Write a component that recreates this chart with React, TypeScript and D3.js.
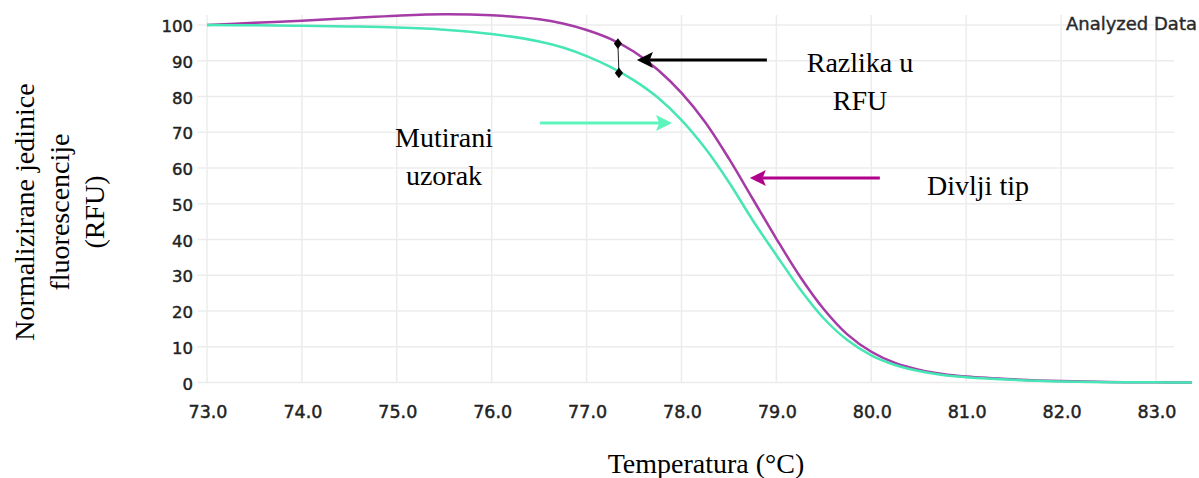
import * as d3 from 'd3';
import React, { useEffect, useRef } from 'react';

// melt curve samples
const temperatures = [73, 73.5, 74, 74.5, 75, 75.5, 76, 76.5, 76.75, 77, 77.25, 77.5, 77.75, 78, 78.25, 78.5, 78.75, 79, 79.25, 79.5, 79.75, 80, 80.25, 80.5, 80.75, 81, 81.5, 82, 82.5, 83, 83.38];
const wildType = [100, 100.6, 101.2, 101.9, 102.6, 103.0, 102.7, 101.6, 100.4, 98.6, 96.1, 92.5, 87.5, 81.0, 72.8, 62.6, 51.4, 40.2, 29.6, 20.5, 13.4, 8.6, 5.5, 3.6, 2.4, 1.7, 0.9, 0.4, 0.15, 0.05, 0];
const mutant = [100, 99.9, 99.8, 99.6, 99.3, 98.7, 97.5, 95.4, 93.7, 91.3, 88.3, 84.5, 79.7, 73.4, 65.5, 56.0, 45.4, 35.6, 26.1, 17.9, 11.8, 7.6, 4.9, 3.2, 2.1, 1.5, 0.75, 0.3, 0.1, 0.05, 0];

const xTicks = [73, 74, 75, 76, 77, 78, 79, 80, 81, 82, 83];
const yTicks = [0, 10, 20, 30, 40, 50, 60, 70, 80, 90, 100];

// difference marker (temperature, RFU of both curves)
const markerTemp = 77.33;
const markerValues = [94.8, 86.6];

const WILD_COLOR = '#a43ba7';
const MUT_COLOR = '#47e6b5';

const App = () => {
  const ref = useRef(null);

  useEffect(() => {
    document.body.style.margin = '0';
    const width = 1199, height = 478;

    const svg = d3.select(ref.current)
      .append('svg')
      .attr('width', width)
      .attr('height', height)
      .style('display', 'block')
      .style('background', '#fff');

    const x = d3.scaleLinear().domain([73, 83]).range([207, 1156]);
    const y = d3.scaleLinear().domain([0, 100]).range([382.5, 25]);

    // grid
    const grid = svg.append('g').attr('stroke', '#ececec').attr('stroke-width', 1.5);
    grid.selectAll('line.v')
      .data(xTicks)
      .join('line')
      .attr('x1', d => x(d)).attr('x2', d => x(d))
      .attr('y1', 15).attr('y2', y(0));
    grid.selectAll('line.h')
      .data(yTicks)
      .join('line')
      .attr('x1', x(72.9)).attr('x2', x(83.19))
      .attr('y1', d => y(d)).attr('y2', d => y(d));

    // tick labels
    const tickFont = "'DejaVu Sans', sans-serif";
    svg.append('g')
      .selectAll('text')
      .data(yTicks)
      .join('text')
      .attr('x', 193)
      .attr('y', d => y(d) + 7)
      .attr('text-anchor', 'end')
      .attr('font-family', tickFont)
      .attr('font-size', 16.5)
      .attr('fill', '#222')
      .attr('stroke', '#222')
      .attr('stroke-width', 0.45)
      .text(d => d);

    svg.append('g')
      .selectAll('text')
      .data(xTicks)
      .join('text')
      .attr('x', d => x(d) + 1)
      .attr('y', 418)
      .attr('text-anchor', 'middle')
      .attr('font-family', tickFont)
      .attr('font-size', 17.5)
      .attr('fill', '#222')
      .attr('stroke', '#222')
      .attr('stroke-width', 0.45)
      .text(d => d.toFixed(1));

    svg.append('text')
      .attr('x', 1197)
      .attr('y', 30)
      .attr('text-anchor', 'end')
      .attr('font-family', tickFont)
      .attr('font-size', 18)
      .attr('fill', '#2a2a2a')
      .attr('stroke', '#2a2a2a')
      .attr('stroke-width', 0.4)
      .text('Analyzed Data');

    // curves
    const line = d3.line()
      .x((d, i) => x(temperatures[i]))
      .y(d => y(d))
      .curve(d3.curveCatmullRom.alpha(0.5));

    svg.append('path')
      .attr('d', line(wildType))
      .attr('fill', 'none')
      .attr('stroke', WILD_COLOR)
      .attr('stroke-width', 2.5);

    svg.append('path')
      .attr('d', line(mutant))
      .attr('fill', 'none')
      .attr('stroke', MUT_COLOR)
      .attr('stroke-width', 2.5);

    // difference marker
    svg.append('line')
      .attr('x1', x(markerTemp)).attr('x2', x(markerTemp) + 1)
      .attr('y1', y(markerValues[0])).attr('y2', y(markerValues[1]))
      .attr('stroke', '#222')
      .attr('stroke-width', 1);
    svg.selectAll('path.diamond')
      .data(markerValues)
      .join('path')
      .attr('d', d3.symbol(d3.symbolDiamond, 40))
      .attr('transform', (d, i) => `translate(${x(markerTemp) + i},${y(d)}) scale(1.2,0.9)`)
      .attr('fill', '#000');

    // arrows
    const arrow = (fromT, toT, val, color, width) => {
      const y0 = y(val);
      const x0 = x(fromT), x1 = x(toT);
      const dir = Math.sign(x1 - x0);
      const headLen = 16, headHalf = 8;
      const g = svg.append('g');
      g.append('line')
        .attr('x1', x0).attr('x2', x1 - dir * headLen * 0.8)
        .attr('y1', y0).attr('y2', y0)
        .attr('stroke', color)
        .attr('stroke-width', width);
      g.append('path')
        .attr('d', `M${x1},${y0}L${x1 - dir * headLen},${y0 - headHalf}L${x1 - dir * headLen * 0.8},${y0}L${x1 - dir * headLen},${y0 + headHalf}Z`)
        .attr('fill', color);
    };
    arrow(78.9, 77.53, 90.2, '#000', 3);
    arrow(76.51, 77.9, 72.6, '#5cf5bb', 3);
    arrow(80.09, 78.72, 57.2, '#b1008c', 3);

    // annotation texts
    const serif = "'Liberation Serif', 'Times New Roman', serif";
    const label = (cx, by, txt) => svg.append('text')
      .attr('x', cx).attr('y', by)
      .attr('text-anchor', 'middle')
      .attr('font-family', serif)
      .attr('font-size', 28)
      .attr('fill', '#000')
      .text(txt);
    label(860, 72, 'Razlika u');
    label(860, 110, 'RFU');
    label(444, 147, 'Mutirani');
    label(444, 185, 'uzorak');
    label(978, 195, 'Divlji tip');

    // axis titles
    label(706, 473, 'Temperatura (°C)');
    const yTitle = svg.append('text')
      .attr('transform', 'rotate(-90)')
      .attr('text-anchor', 'middle')
      .attr('font-family', serif)
      .attr('font-size', 28)
      .attr('fill', '#000');
    ['Normalizirane jedinice', 'fluorescencije', '(RFU)'].forEach((t, i) => {
      yTitle.append('tspan')
        .attr('x', -212)
        .attr('y', 34 + i * 35)
        .text(t);
    });

    return () => { d3.select(ref.current).selectAll('*').remove(); };
  }, []);

  return <div ref={ref} />;
};

export default App;
